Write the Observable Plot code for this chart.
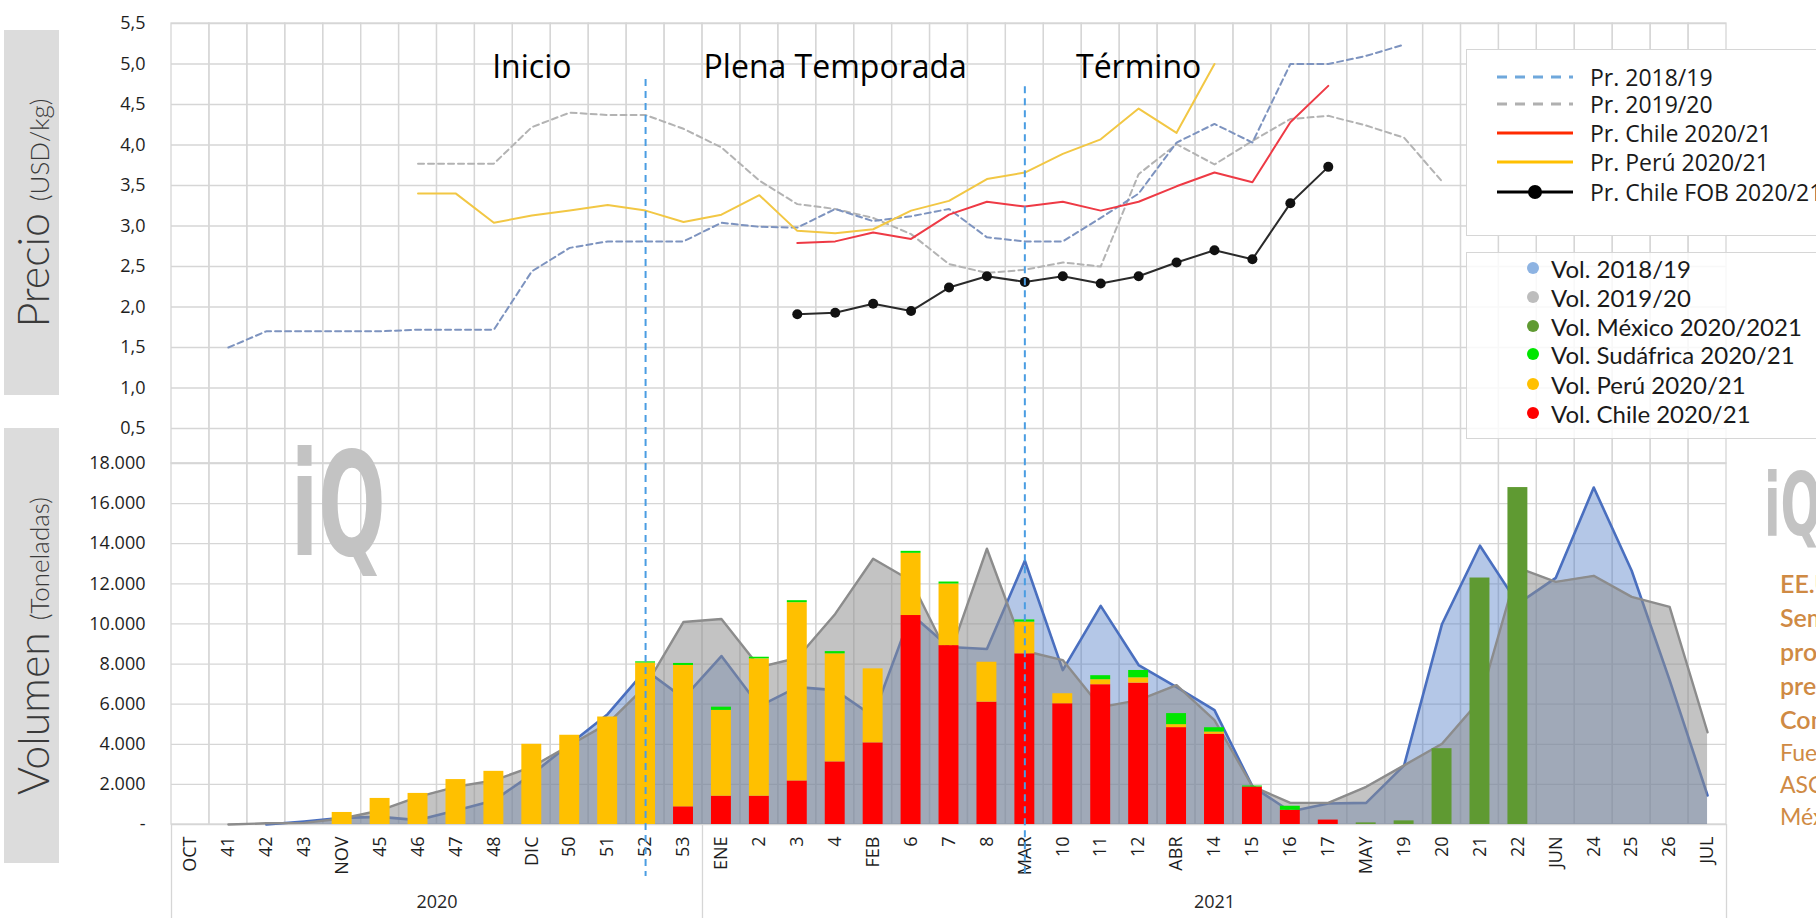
<!DOCTYPE html>
<html><head><meta charset="utf-8">
<script src="https://cdn.jsdelivr.net/npm/d3@7"></script>
<script src="https://cdn.jsdelivr.net/npm/@observablehq/plot@0.6"></script>
<style>
body{margin:0;background:#fff;}
#wrap{position:relative;width:1816px;height:918px;overflow:hidden;background:#fff;font-family:"Open Sans",sans-serif;}
#wrap svg.plotlayer{position:absolute;left:0;top:0;}
.side{position:absolute;left:4px;width:55px;background:#dcdcdc;}
.side span{position:absolute;left:50%;top:50%;transform:translate(-50%,-50%) rotate(-90deg);white-space:nowrap;font-family:Lato,sans-serif;font-weight:300;color:#3a3a3a;font-size:43px;line-height:1;}
.side span small{font-size:26px;}
.wm{position:absolute;font-family:"DejaVu Sans",sans-serif;font-weight:bold;color:#c3c3c3;line-height:1;transform-origin:left top;white-space:nowrap;}
.box{position:absolute;left:1466px;width:400px;border:1px solid #d6d6d6;}
.leg1row{position:absolute;left:30px;height:29px;display:flex;align-items:center;font-family:"Open Sans",sans-serif;font-size:23px;color:#1a1a1a;white-space:nowrap;}
.leg1row svg{margin-right:17px;}
.leg2row{position:absolute;left:60px;height:29px;display:flex;align-items:center;font-family:Lato,sans-serif;font-size:24px;color:#1a1a1a;white-space:nowrap;}
.leg2row i{display:inline-block;width:12px;height:12px;border-radius:50%;margin-right:12px;}
#note{position:absolute;left:1780px;top:566px;color:#cf8a44;font-family:Lato,sans-serif;white-space:nowrap;}
#note .b{font-size:25px;font-weight:600;line-height:34px;}
#note .l{font-size:23px;font-weight:400;line-height:32px;}
</style></head>
<body>
<div id="wrap"></div>
<script>
// ---------- data ----------
const weeks = ["OCT","41","42","43","NOV","45","46","47","48","DIC","50","51","52","53","ENE","2","3","4","FEB","6","7","8","MAR","10","11","12","ABR","14","15","16","17","MAY","19","20","21","22","JUN","24","25","26","JUL"];

const pr1819 = [null,1.50,1.70,1.70,1.70,1.70,1.72,1.72,1.72,2.44, 2.73,2.81,2.81,2.81,3.04,2.99,2.98,3.21,3.06,3.12, 3.21,2.86,2.81,2.81,3.10,3.40,4.03,4.26,4.03,5.00, 5.00,5.10,5.24,null,null,null,null,null,null,null, null];
const pr1920 = [null,null,null,null,null,null,3.77,3.77,3.77,4.22, 4.40,4.37,4.37,4.20,3.97,3.56,3.27,3.21,3.10,2.90, 2.53,2.42,2.46,2.55,2.50,3.64,4.01,3.76,4.05,4.32, 4.36,4.24,4.09,3.55,null,null,null,null,null,null, null];
const prChile = [null,null,null,null,null,null,null,null,null,null, null,null,null,null,null,null,2.79,2.81,2.92,2.84, 3.14,3.30,3.24,3.30,3.19,3.30,3.49,3.66,3.54,4.28, 4.73,null,null,null,null,null,null,null,null,null, null];
const prPeru = [null,null,null,null,null,null,3.40,3.40,3.04,3.13, 3.19,3.26,3.19,3.05,3.14,3.38,2.94,2.91,2.96,3.19, 3.31,3.58,3.66,3.89,4.07,4.45,4.15,5.00,null,null, null,null,null,null,null,null,null,null,null,null, null];
const prFOB = [null,null,null,null,null,null,null,null,null,null, null,null,null,null,null,null,1.91,1.93,2.04,1.95, 2.24,2.38,2.31,2.38,2.29,2.38,2.55,2.70,2.59,3.28, 3.73,null,null,null,null,null,null,null,null,null, null];

const vol1819 = [null,null,0,150,330,380,220,700,1200,2500, 4000,5500,7700,6300,8400,5900,6850,6700,5400,10500, 8850,8750,13150,7700,10900,7950,6850,5700,1900,650, 1050,1080,2950,10000,13900,11000,12300,16800,12650,7200, 1450];
const vol1920 = [null,0,60,80,300,700,1380,1880,2200,2870, 3950,5030,6900,10100,10250,7850,8300,10500,13250,12150, 8350,13750,8650,8200,5850,6200,6950,5200,1900,1080, 1080,1880,2950,4030,6200,12800,12100,12400,11350,10850, 4600];
const volChile = [null,null,null,null,null,null,null,null,null,null, null,null,null,880,1410,1410,2170,3120,4070,10420, 8920,6100,8510,6020,6970,7050,4830,4500,1870,710, 220,null,null,null,null,null,null,null,null,null, null];
const volPeru = [null,null,null,null,600,1300,1550,2240,2650,4000, 4450,5360,8050,7050,4280,6850,8890,5390,3690,3100, 3070,1990,1580,500,250,265,150,110,null,null, null,null,null,null,null,null,null,null,null,null, null];
const volSudafrica = [null,null,null,null,null,null,null,null,null,null, null,null,60,100,160,80,100,110,0,100, 100,0,110,0,200,365,550,215,50,200, null,null,null,null,null,null,null,null,null,null, null];
const volMexico = [null,null,null,null,null,null,null,null,null,null, null,null,null,null,null,null,null,null,null,null, null,null,null,null,null,null,null,null,null,null, null,80,180,3780,12290,16800,null,null,null,null, null];

const priceTicks = [0.5,1,1.5,2,2.5,3,3.5,4,4.5,5,5.5];
const volTicks = [0,2000,4000,6000,8000,10000,12000,14000,16000,18000];
const seasonLabels = [{label:"Inicio", week:"DIC"},{label:"Plena Temporada", week:"4"},{label:"Término", week:"12"}];
const seasonLines = [{week:"52", top:4.81},{week:"MAR", top:4.72}];
const yearLabels = [{label:"2020", week:"47"},{label:"2021", week:"14"}];
const barSeries = ["Vol. Chile 2020/21","Vol. Perú 2020/21","Vol. Sudáfrica 2020/21","Vol. México 2020/2021"];
const barColors = ["#ff0000","#ffc000","#00e600","#5f9a32"];
const barArrays = [volChile, volPeru, volSudafrica, volMexico];

// ---------- layout ----------
const W = 1816, H = 918, mL = 171, mR = 90;
const bw = (W - mL - mR) / weeks.length;
const grid = "#d6d6d6";
const fontStyle = {background:"none", fontFamily:"'Open Sans', sans-serif", fontSize:"18px", color:"#1e1e1e", overflow:"visible"};

const barData = [];
barSeries.forEach((s, k) => barArrays[k].forEach((v, i) => { if (v) barData.push({week: weeks[i], series: s, value: v}); }));

const wrap = document.getElementById("wrap");

// ---------- volume chart ----------
const vol = Plot.plot({
  width: W, height: H, marginLeft: mL, marginRight: mR, marginTop: 463, marginBottom: H - 824,
  style: fontStyle,
  x: {type:"band", domain: weeks, padding: 0, tickRotate: -90, tickSize: 0, tickPadding: 12, label: null},
  y: {domain:[0,18000], ticks: volTicks, tickSize: 0, tickPadding: 26, label: null,
      tickFormat: d => d === 0 ? "-" : d3.format(",")(d).replace(/,/g, ".")},
  color: {domain: barSeries, range: barColors},
  marks: [
    Plot.barY(weeks, {x: d => d, y1: 0, y2: 18000, fill: "none", stroke: grid, strokeWidth: 1.3}),
    Plot.ruleY(volTicks, {stroke: grid, strokeWidth: 1.3}),
    Plot.areaY(vol1819, {x: weeks, y1: 0, y2: d => d, fill: "#4472c4", fillOpacity: 0.4}),
    Plot.lineY(vol1819, {x: weeks, y: d => d, stroke: "#4a6fbf", strokeWidth: 2.6}),
    Plot.areaY(vol1920, {x: weeks, y1: 0, y2: d => d, fill: "#8e8e8e", fillOpacity: 0.53}),
    Plot.lineY(vol1920, {x: weeks, y: d => d, stroke: "#8c8c8c", strokeWidth: 2.4}),
    Plot.barY(barData, {x: "week", y: "value", fill: "series", order: barSeries, insetLeft: 9, insetRight: 9}),
    Plot.ruleX(["OCT","ENE"], {x: d => d, dx: -bw/2, y1: 0, y2: 0, insetBottom: -(H - 824), stroke: grid, strokeWidth: 1.3}),
    Plot.ruleX(["JUL"], {x: d => d, dx: bw/2, y1: 0, y2: 0, insetBottom: -(H - 824), stroke: grid, strokeWidth: 1.3}),
    Plot.text(yearLabels.slice(0,1), {x: "week", text: "label", dx: -bw/2, frameAnchor: "bottom", dy: 83, fontSize: 18, fill: "#262626"}),
    Plot.text(yearLabels.slice(1), {x: "week", text: "label", frameAnchor: "bottom", dy: 83, fontSize: 18, fill: "#262626"})
  ]
});
vol.classList.add("plotlayer");
wrap.appendChild(vol);

// ---------- price chart ----------
const price = Plot.plot({
  width: W, height: H, marginLeft: mL, marginRight: mR, marginTop: 23, marginBottom: H - 428,
  style: fontStyle,
  x: {type:"band", domain: weeks, padding: 0, axis: null},
  y: {domain:[0.5,5.5], ticks: priceTicks, tickSize: 0, tickPadding: 26, label: null,
      tickFormat: d => d.toFixed(1).replace(".", ",")},
  marks: [
    Plot.barY(weeks, {x: d => d, y1: 0.5, y2: 5.5, fill: "none", stroke: grid, strokeWidth: 1.3, insetBottom: -35}),
    Plot.ruleY(priceTicks, {stroke: grid, strokeWidth: 1.3}),
    Plot.lineY(pr1920, {x: weeks, y: d => d, stroke: "#b3b3b3", strokeWidth: 2, strokeDasharray: "6,4"}),
    Plot.lineY(pr1819, {x: weeks, y: d => d, stroke: "#7d93bf", strokeWidth: 2, strokeDasharray: "6,4"}),
    Plot.lineY(prPeru, {x: weeks, y: d => d, stroke: "#f2c744", strokeWidth: 2}),
    Plot.lineY(prChile, {x: weeks, y: d => d, stroke: "#ee3a45", strokeWidth: 2}),
    Plot.lineY(prFOB, {x: weeks, y: d => d, stroke: "#2a2a2a", strokeWidth: 2}),
    Plot.dot(prFOB, {x: weeks, y: d => d, r: 5, fill: "#111", stroke: "none"}),
    Plot.ruleX(seasonLines, {x: "week", y1: "top", y2: 0.5, insetBottom: -448, stroke: "#4a9de2", strokeWidth: 2, strokeDasharray: "7,5"}),
    Plot.text(seasonLabels, {x: "week", y: 4.95, text: "label", fontSize: 32, fill: "#000", fontFamily: "'Open Sans', sans-serif"})
  ]
});
price.classList.add("plotlayer");
wrap.appendChild(price);

// ---------- side titles, watermarks, legends, note ----------
function el(tag, cls, css, html) {
  const e = document.createElement(tag);
  if (cls) e.className = cls;
  if (css) e.style.cssText = css;
  if (html != null) e.innerHTML = html;
  wrap.appendChild(e);
  return e;
}
el("div", "side", "top:30px;height:365px;", "<span>Precio <small>(USD/kg)</small></span>");
el("div", "side", "top:428px;height:435px;", "<span>Volumen <small>(Toneladas)</small></span>");
el("div", "wm", "left:291px;top:433px;font-size:144px;transform:scaleX(0.55);", "iQ");
el("div", "wm", "left:1764px;top:461px;font-size:88px;transform:scaleX(0.55);", "iQ");

const leg1 = [
  {label:"Pr. 2018/19", color:"#6fa8dc", dash:"10,8"},
  {label:"Pr. 2019/20", color:"#b0b0b0", dash:"10,8"},
  {label:"Pr. Chile 2020/21", color:"#ff2a00", dash:null},
  {label:"Pr. Perú 2020/21", color:"#ffc000", dash:null},
  {label:"Pr. Chile FOB 2020/21", color:"#000", dash:null, dot:true}
];
const leg1Top = [27, 54, 83, 112, 142];
const b1 = el("div", "box", "top:49px;height:185px;background:#fff;");
leg1.forEach((d, k) => {
  const r = document.createElement("div");
  r.className = "leg1row";
  r.style.top = (leg1Top[k] - 14.5) + "px";
  r.innerHTML = `<svg width="76" height="16"><line x1="0" x2="76" y1="8" y2="8" stroke="${d.color}" stroke-width="3" ${d.dash ? `stroke-dasharray="${d.dash}"` : ""}/>${d.dot ? '<circle cx="38" cy="8" r="7" fill="#000"/>' : ""}</svg>${d.label}`;
  b1.appendChild(r);
});

const leg2 = [
  {label:"Vol. 2018/19", color:"#8db3e2"},
  {label:"Vol. 2019/20", color:"#bdbdbd"},
  {label:"Vol. México 2020/2021", color:"#5f9a32"},
  {label:"Vol. Sudáfrica 2020/21", color:"#00e600"},
  {label:"Vol. Perú 2020/21", color:"#ffc000"},
  {label:"Vol. Chile 2020/21", color:"#ff0000"}
];
const leg2Top = [15, 44, 73, 101, 131, 160];
const b2 = el("div", "box", "top:252px;height:185px;background:rgba(255,255,255,0.82);");
leg2.forEach((d, k) => {
  const r = document.createElement("div");
  r.className = "leg2row";
  r.style.top = (leg2Top[k] - 14.5) + "px";
  r.innerHTML = `<i style="background:${d.color}"></i>${d.label}`;
  b2.appendChild(r);
});

const note = el("div", null, null,
  `<div class="b">EE.UU.:</div><div class="b">Semana</div><div class="b">producción y</div><div class="b">precios de</div><div class="b">Comparativo</div><div class="l">Fuente: USDA,</div><div class="l">ASOEX,</div><div class="l">México</div>`);
note.id = "note";
</script>
</body></html>
